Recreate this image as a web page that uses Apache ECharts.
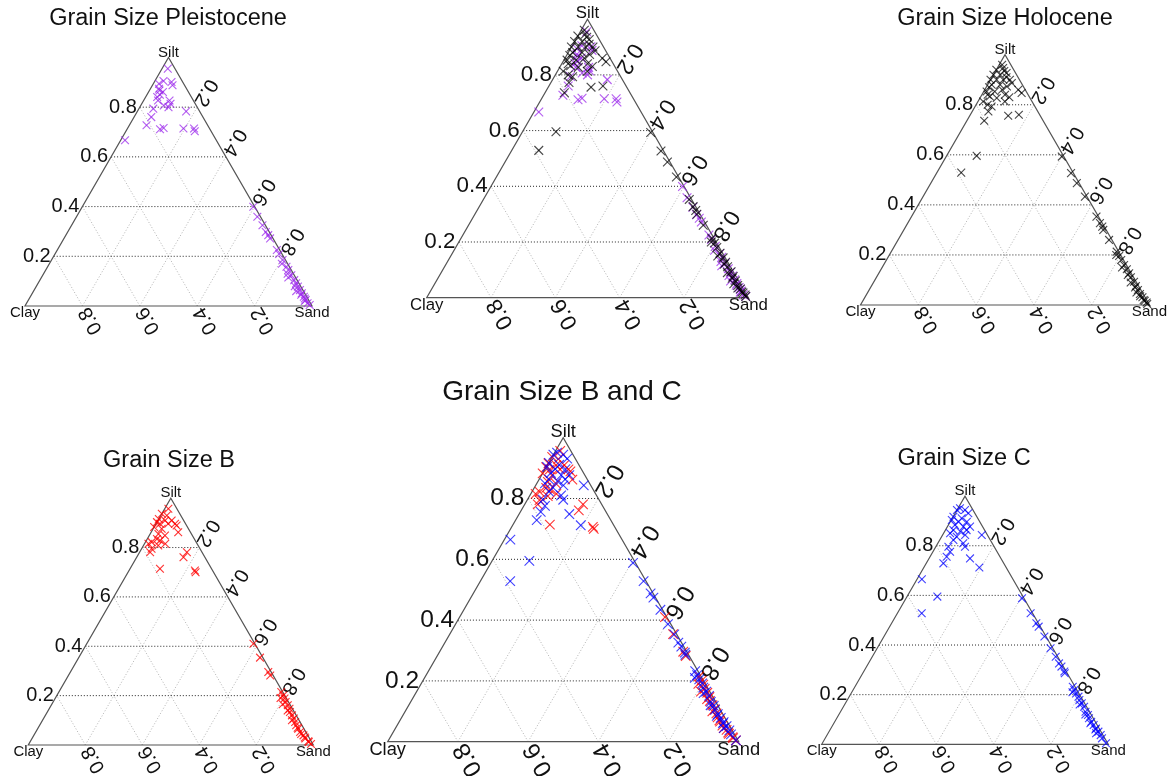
<!DOCTYPE html>
<html>
<head>
<meta charset="utf-8">
<script src="https://cdn.jsdelivr.net/npm/echarts@6/dist/echarts.min.js"></script>
<style>
html,body{margin:0;padding:0;background:#fff;}
#chart{width:1176px;height:776px;}
</style>
</head>
<body>
<div id="chart"></div>
<script>
// ---------- DATA (each point: [sand, silt]; clay = 1 - sand - silt) ----------
const vertexNames = ['Clay', 'Sand', 'Silt'];
const tickValues = [0.2, 0.4, 0.6, 0.8];
const tickLabels = ['0.2', '0.4', '0.6', '0.8'];

const pleistocene = [
  [0.02,0.955],[0.02,0.894],[0.06,0.901],[0.07,0.888],[0.03,0.874],[0.05,0.861],[0.04,0.841],
  [0.09,0.827],[0.10,0.814],[0.05,0.827],[0.08,0.807],[0.05,0.794],[0.10,0.800],[0.17,0.783],
  [0.06,0.760],[0.06,0.727],[0.115,0.711],[0.125,0.716],[0.195,0.714],[0.232,0.714],[0.24,0.703],
  [0.015,0.667],[0.035,0.867],[0.03,0.905],[0.045,0.850],
  [0.596,0.399],[0.630,0.359],[0.665,0.325],[0.690,0.298],[0.705,0.285],[0.718,0.272],[0.765,0.225],
  [0.781,0.209],[0.805,0.185],[0.832,0.158],[0.845,0.145],[0.866,0.124],[0.886,0.104],[0.899,0.091],
  [0.912,0.078],[0.926,0.064],[0.939,0.051],[0.953,0.037],[0.966,0.024],[0.979,0.011],[0.990,0.004],
  [0.810,0.170],[0.850,0.130],[0.860,0.115],[0.900,0.080],[0.915,0.060],[0.940,0.045],[0.960,0.030],[0.965,0.020]
];

const holocene = [
  [0.01,0.960],[0.0,0.940],[0.02,0.947],[0.0,0.920],[0.023,0.920],[0.042,0.927],[0.0,0.900],
  [0.021,0.900],[0.044,0.900],[0.067,0.900],[0.08,0.887],[0.014,0.880],[0.043,0.880],[0.07,0.873],
  [0.116,0.860],[0.134,0.847],[0.01,0.853],[0.038,0.853],[0.031,0.833],[0.058,0.827],[0.093,0.813],
  [0.018,0.813],[0.057,0.793],[0.056,0.773],[0.133,0.756],[0.168,0.760],[0.06,0.736],[0.104,0.596],
  [0.084,0.529],[0.03,0.935],[0.05,0.910],[0.01,0.870],[0.06,0.860],[0.02,0.840],[0.08,0.840],
  [0.04,0.800],[0.10,0.830],
  [0.400,0.593],[0.465,0.527],[0.505,0.487],[0.560,0.433],[0.640,0.353],[0.680,0.313],[0.665,0.327],
  [0.690,0.300],[0.730,0.260],[0.780,0.213],[0.797,0.196],[0.812,0.180],[0.832,0.160],[0.850,0.143],
  [0.866,0.127],[0.880,0.111],[0.900,0.093],[0.915,0.076],[0.930,0.060],[0.945,0.044],[0.960,0.031],
  [0.975,0.017],[0.990,0.004],[0.785,0.200],[0.830,0.150],[0.865,0.120],[0.890,0.090],[0.915,0.070],
  [0.930,0.050],[0.950,0.035],[0.970,0.020],[0.985,0.010]
];

const sizeB = [
  [0.013,0.957],[0.0,0.937],[0.021,0.930],[0.0,0.916],[0.025,0.910],[0.048,0.910],[0.0,0.903],
  [0.014,0.896],[0.043,0.896],[0.067,0.896],[0.076,0.889],[0.0,0.883],[0.03,0.876],[0.095,0.862],
  [0.029,0.855],[0.055,0.849],[0.034,0.835],[0.048,0.829],[0.022,0.822],[0.014,0.815],[0.073,0.815],
  [0.052,0.808],[0.035,0.795],[0.037,0.781],[0.166,0.781],[0.164,0.761],[0.105,0.714],[0.231,0.707],
  [0.237,0.700],
  [0.585,0.410],[0.636,0.354],[0.694,0.296],[0.708,0.282],[0.780,0.215],[0.794,0.201],[0.805,0.188],
  [0.816,0.174],[0.830,0.161],[0.843,0.147],[0.851,0.134],[0.865,0.120],[0.878,0.107],[0.890,0.093],
  [0.900,0.080],[0.914,0.066],[0.927,0.053],[0.946,0.039],[0.959,0.026],[0.978,0.012],[0.990,0.004],
  [0.790,0.190],[0.810,0.165],[0.840,0.140],[0.875,0.100],[0.910,0.070],[0.935,0.045],[0.955,0.030],[0.975,0.015]
];

const sizeC = [
  [0.007,0.951],[0.0,0.944],[0.028,0.944],[0.046,0.931],[0.001,0.917],[0.033,0.911],[0.002,0.904],
  [0.029,0.897],[0.058,0.897],[0.023,0.884],[0.056,0.877],[0.079,0.877],[0.028,0.863],[0.055,0.857],
  [0.074,0.863],[0.023,0.850],[0.079,0.843],[0.053,0.836],[0.048,0.823],[0.089,0.810],[0.102,0.796],
  [0.044,0.796],[0.06,0.776],[0.137,0.843],[0.143,0.749],[0.058,0.756],[0.06,0.729],[0.194,0.712],
  [0.017,0.665],[0.106,0.595],[0.085,0.528],
  [0.405,0.588],[0.465,0.528],[0.505,0.488],[0.520,0.474],[0.560,0.434],[0.605,0.387],[0.640,0.353],
  [0.665,0.326],[0.680,0.313],[0.700,0.293],[0.705,0.286],[0.760,0.232],[0.772,0.219],[0.785,0.205],
  [0.800,0.192],[0.810,0.178],[0.825,0.165],[0.840,0.151],[0.855,0.131],[0.870,0.118],[0.880,0.105],
  [0.895,0.091],[0.910,0.078],[0.925,0.064],[0.940,0.051],[0.955,0.037],[0.966,0.024],[0.990,0.004],
  [0.770,0.210],[0.820,0.160],[0.860,0.120],[0.895,0.085],[0.925,0.060],[0.935,0.045]
];

// ---------- LAYOUT / STYLE ----------
const datasets = {
  pleistocene: { data: pleistocene, color: 'rgba(155,40,235,0.75)' },
  holocene:    { data: holocene,    color: 'rgba(0,0,0,0.72)' },
  sizeB:       { data: sizeB,       color: 'rgba(255,0,0,0.8)' },
  sizeC:       { data: sizeC,       color: 'rgba(0,0,255,0.75)' }
};

const panels = [
  { title: 'Grain Size Pleistocene', tx: 168, ty: 19, tsize: 23.5, left: 25, bottom: 306, width: 287, sets: ['pleistocene'] },
  { title: '', tx: 0, ty: 0, tsize: 0, left: 426.7, bottom: 297.7, width: 321.6, sets: ['pleistocene', 'holocene'] },
  { title: 'Grain Size Holocene', tx: 1005, ty: 19, tsize: 23.5, left: 860.5, bottom: 305, width: 289, sets: ['holocene'] },
  { title: 'Grain Size B', tx: 169, ty: 461, tsize: 23.5, left: 28.3, bottom: 745, width: 285, sets: ['sizeB'] },
  { title: 'Grain Size B and C', tx: 562, ty: 392.5, tsize: 28, left: 387.7, bottom: 741.7, width: 351, sets: ['sizeB', 'sizeC'] },
  { title: 'Grain Size C', tx: 964, ty: 458.5, tsize: 23.5, left: 821.7, bottom: 744.3, width: 286.6, sets: ['sizeC'] }
];

const FONT = '"Liberation Sans", Arial, sans-serif';
const H3 = Math.sqrt(3) / 2;

const grids = [], xAxes = [], yAxes = [], series = [], graphics = [];

panels.forEach((p, i) => {
  const h = p.width * H3;
  const s = p.width / 287;
  grids.push({ left: p.left, top: p.bottom - h, width: p.width, height: h });
  xAxes.push({ gridIndex: i, type: 'value', min: 0, max: 1, show: false });
  yAxes.push({ gridIndex: i, type: 'value', min: 0, max: 1, show: false });

  // frame: triangle, grid, tick labels, vertex labels
  series.push({
    type: 'custom', xAxisIndex: i, yAxisIndex: i, silent: true, clip: false, animation: false,
    data: [[0, 0]],
    renderItem: function (params, api) {
      const P = (sand, silt) => api.coord([sand + silt / 2, silt]);
      const ch = [];
      const tickFont = (20 * s).toFixed(1) + 'px ' + FONT;
      const vFont = (15 * s).toFixed(1) + 'px ' + FONT;
      tickValues.forEach((v) => {
        const a1 = P(v, 0), a2 = P(v, 1 - v);       // constant sand
        const b1 = P(1 - v, 0), b2 = P(0, 1 - v);   // constant clay
        ch.push({ type: 'line', shape: { x1: a1[0], y1: a1[1], x2: a2[0], y2: a2[1] },
          style: { stroke: '#b4b4b4', lineWidth: 1, lineDash: [1, 2] } });
        ch.push({ type: 'line', shape: { x1: b1[0], y1: b1[1], x2: b2[0], y2: b2[1] },
          style: { stroke: '#b4b4b4', lineWidth: 1, lineDash: [1, 2] } });
      });
      tickValues.forEach((v) => {
        const c1 = P(0, v), c2 = P(1 - v, v);       // constant silt (horizontal)
        ch.push({ type: 'line', shape: { x1: c1[0], y1: c1[1], x2: c2[0], y2: c2[1] },
          style: { stroke: '#222', lineWidth: 1, lineDash: [1, 2] } });
      });
      const cl = P(0, 0), sa = P(1, 0), si = P(0, 1);
      ch.push({ type: 'polygon', shape: { points: [cl, sa, si] },
        style: { fill: 'none', stroke: '#555', lineWidth: 1.2 } });
      const g = 3 * s;
      tickValues.forEach((v, k) => {
        const t = tickLabels[k];
        const L = P(0, v);
        ch.push({ type: 'text', x: L[0] - g, y: L[1], rotation: 0,
          style: { text: t, font: tickFont, fill: '#111', align: 'right', verticalAlign: 'middle' } });
        const B = P(1 - v, 0);
        ch.push({ type: 'text', x: B[0] + 0.5 * g, y: B[1] + 0.866 * g, rotation: 2 * Math.PI / 3,
          style: { text: t, font: tickFont, fill: '#111', align: 'right', verticalAlign: 'middle' } });
        const R = P(v, 1 - v);
        ch.push({ type: 'text', x: R[0] + 0.5 * g, y: R[1] - 0.866 * g, rotation: -2 * Math.PI / 3,
          style: { text: t, font: tickFont, fill: '#111', align: 'right', verticalAlign: 'middle' } });
      });
      ch.push({ type: 'text', x: cl[0], y: cl[1] + 7 * s,
        style: { text: vertexNames[0], font: vFont, fill: '#111', align: 'center', verticalAlign: 'middle' } });
      ch.push({ type: 'text', x: sa[0], y: sa[1] + 7 * s,
        style: { text: vertexNames[1], font: vFont, fill: '#111', align: 'center', verticalAlign: 'middle' } });
      ch.push({ type: 'text', x: si[0], y: si[1] - 5 * s,
        style: { text: vertexNames[2], font: vFont, fill: '#111', align: 'center', verticalAlign: 'middle' } });
      return { type: 'group', children: ch };
    }
  });

  p.sets.forEach((key) => {
    const ds = datasets[key];
    const hs = 3.9 * s;
    series.push({
      type: 'custom', xAxisIndex: i, yAxisIndex: i, silent: true, clip: false, animation: false,
      encode: { x: 0, y: 1 },
      data: ds.data.map((d) => [d[0] + d[1] / 2, d[1]]),
      renderItem: function (params, api) {
        const c = api.coord([api.value(0), api.value(1)]);
        return { type: 'group', children: [
          { type: 'line', shape: { x1: c[0] - hs, y1: c[1] - hs, x2: c[0] + hs, y2: c[1] + hs },
            style: { stroke: ds.color, lineWidth: 1.1 } },
          { type: 'line', shape: { x1: c[0] - hs, y1: c[1] + hs, x2: c[0] + hs, y2: c[1] - hs },
            style: { stroke: ds.color, lineWidth: 1.1 } }
        ] };
      }
    });
  });

  if (p.title) {
    graphics.push({ type: 'text', x: p.tx, y: p.ty, silent: true,
      style: { text: p.title, font: p.tsize + 'px ' + FONT, fill: '#111', align: 'center', verticalAlign: 'middle' } });
  }
});

const chart = echarts.init(document.getElementById('chart'), null, { renderer: 'canvas' });
chart.setOption({
  backgroundColor: '#ffffff',
  animation: false,
  grid: grids,
  xAxis: xAxes,
  yAxis: yAxes,
  series: series,
  graphic: graphics
});
</script>
</body>
</html>
